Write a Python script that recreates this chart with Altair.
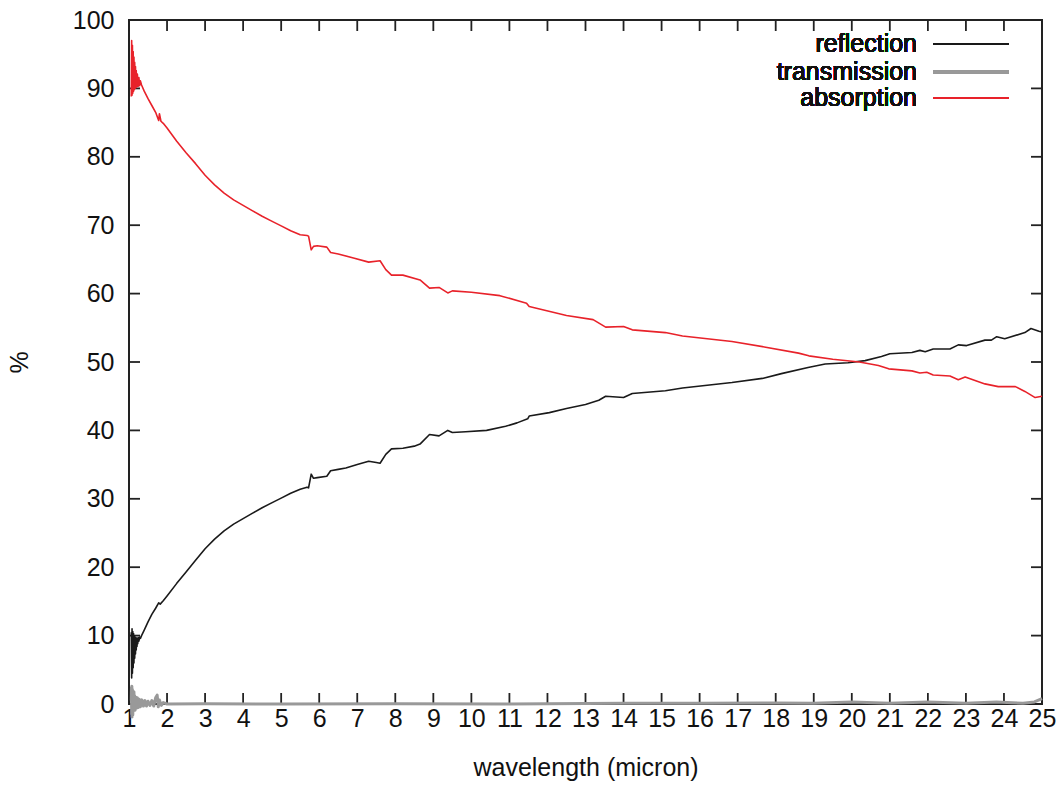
import altair as alt
import pandas as pd

# ---------------- data ----------------
refl_wl = [1.06, 1.07, 1.08, 1.09, 1.10, 1.11, 1.12, 1.13, 1.14, 1.15, 1.16, 1.17, 1.18, 1.19,
           1.20, 1.21, 1.22, 1.23, 1.24, 1.26, 1.28, 1.30, 1.33, 1.40, 1.50, 1.60, 1.70, 1.78,
           1.82, 1.90, 2.00, 2.25, 2.50, 2.75, 3.00, 3.25, 3.50, 3.75, 4.00, 4.25, 4.50, 4.75,
           5.00, 5.25, 5.50, 5.68, 5.72, 5.79, 5.85, 5.95, 6.20, 6.30, 6.50, 6.70, 7.00, 7.30,
           7.50, 7.60, 7.75, 7.90, 8.20, 8.50, 8.65, 8.90, 9.15, 9.38, 9.50, 9.85, 10.40, 10.90,
           11.20, 11.48, 11.52, 12.05, 12.50, 13.00, 13.35, 13.53, 14.00, 14.23, 15.10, 15.55,
           16.20, 16.85, 17.65, 18.15, 18.85, 19.30, 19.90, 20.35, 20.78, 21.00, 21.58, 21.79,
           21.93, 22.14, 22.58, 22.80, 23.02, 23.50, 23.67, 23.81, 24.02, 24.55, 24.71, 24.92, 25.00]
refl_val = [10.5, 3.8, 11.0, 4.5, 10.6, 5.3, 10.3, 6.0, 10.0, 6.7, 9.8, 7.3, 9.7, 7.9,
            9.6, 8.4, 9.6, 8.8, 9.7, 9.2, 9.8, 9.6, 10.0, 10.8, 12.0, 13.1, 14.0, 14.8,
            14.6, 15.1, 15.8, 17.6, 19.3, 21.0, 22.7, 24.1, 25.3, 26.3, 27.1, 27.9, 28.7, 29.4,
            30.1, 30.8, 31.4, 31.7, 31.6, 33.6, 33.0, 33.1, 33.3, 34.1, 34.3, 34.5, 35.0, 35.5,
            35.3, 35.2, 36.5, 37.3, 37.4, 37.7, 38.0, 39.4, 39.2, 40.0, 39.7, 39.8, 40.0, 40.6,
            41.1, 41.7, 42.1, 42.6, 43.2, 43.8, 44.4, 45.0, 44.8, 45.4, 45.8, 46.2,
            46.6, 47.0, 47.6, 48.3, 49.2, 49.7, 49.9, 50.2, 50.8, 51.2, 51.4, 51.7,
            51.5, 51.9, 51.9, 52.5, 52.4, 53.2, 53.2, 53.7, 53.4, 54.3, 54.9, 54.5, 54.4]

trans_wl = [1.06, 1.065, 1.07, 1.075, 1.08, 1.085, 1.09, 1.095, 1.10, 1.11, 1.12, 1.13, 1.14,
            1.15, 1.16, 1.18, 1.20, 1.22, 1.24, 1.27, 1.30, 1.34, 1.38, 1.42, 1.46, 1.50, 1.55,
            1.60, 1.65, 1.70, 1.74, 1.77, 1.80, 1.85, 1.90, 2.00, 3.00, 5.00, 8.00, 11.00, 14.00,
            16.00, 18.00, 19.00, 20.00, 21.00, 22.00, 23.00, 23.80, 24.50, 24.80, 25.00]
trans_val = [0.5, 2.4, -1.5, 2.6, -1.9, 2.2, -1.2, 2.0, -1.6, 1.6, -1.0, 1.8, -0.8,
             1.2, -0.9, 1.0, -0.6, 0.9, -0.5, 0.7, -0.4, 0.6, -0.3, 0.5, -0.3, 0.4, -0.2,
             0.5, -0.3, 0.9, 1.3, -0.4, 0.6, -0.2, 0.2, 0.0, 0.05, 0.0, 0.05, 0.0, 0.1,
             0.1, 0.15, 0.1, 0.3, 0.1, 0.3, 0.1, 0.3, 0.1, 0.3, 0.8]

absor_wl = [1.06, 1.07, 1.08, 1.09, 1.10, 1.11, 1.12, 1.13, 1.14, 1.15, 1.16, 1.17, 1.18, 1.19,
            1.20, 1.22, 1.24, 1.26, 1.28, 1.30, 1.33, 1.40, 1.50, 1.60, 1.70, 1.78, 1.80, 1.84,
            1.90, 2.00, 2.25, 2.50, 2.75, 3.00, 3.25, 3.50, 3.75, 4.00, 4.25, 4.50, 4.75, 5.00,
            5.25, 5.50, 5.68, 5.72, 5.79, 5.85, 5.95, 6.20, 6.30, 6.50, 6.90, 7.30, 7.60, 7.75,
            7.90, 8.20, 8.65, 8.90, 9.15, 9.38, 9.50, 10.00, 10.75, 11.45, 11.52, 12.50, 13.20,
            13.53, 14.00, 14.23, 15.10, 15.55, 16.85, 17.70, 18.60, 18.87, 19.50, 20.20, 20.70,
            20.97, 21.58, 21.79, 21.97, 22.14, 22.58, 22.80, 22.98, 23.24, 23.50, 23.85, 24.30,
            24.55, 24.82, 25.00]
absor_val = [88.8, 97.0, 89.0, 96.3, 89.3, 95.4, 89.6, 94.6, 89.8, 93.8, 90.0, 93.2, 90.1, 92.6,
             90.2, 92.1, 90.3, 91.6, 90.4, 91.1, 90.5, 89.6, 88.5, 87.5, 86.5, 85.3, 86.3, 85.2,
             84.9, 84.2, 82.3, 80.6, 79.0, 77.3, 75.9, 74.7, 73.7, 72.9, 72.1, 71.3, 70.6, 69.9,
             69.2, 68.6, 68.5, 68.4, 66.4, 66.9, 67.0, 66.8, 66.0, 65.8, 65.2, 64.6, 64.8, 63.5,
             62.7, 62.7, 62.0, 60.8, 60.9, 60.1, 60.4, 60.2, 59.7, 58.6, 58.1, 56.8, 56.2,
             55.1, 55.2, 54.7, 54.3, 53.8, 53.0, 52.2, 51.3, 50.9, 50.4, 50.0, 49.5,
             49.0, 48.7, 48.4, 48.5, 48.1, 47.95, 47.4, 47.8, 47.3, 46.8, 46.4, 46.4,
             45.7, 44.8, 45.0]

x_ticks = list(range(1, 26))
y_ticks = list(range(0, 101, 10))
series_names = ["reflection", "transmission", "absorption"]
series_colors = ["#1a1a1a", "#999999", "#e8222a"]
series_widths = [1.6, 3.0, 1.6]

# ---------------- chart ----------------
FONT = "Liberation Sans"
W, H = 913, 684
FS = 25

df_r = pd.DataFrame({"wavelength": refl_wl, "value": refl_val})
df_t = pd.DataFrame({"wavelength": trans_wl, "value": trans_val})
df_a = pd.DataFrame({"wavelength": absor_wl, "value": absor_val})
df_xt = pd.DataFrame({"wavelength": x_ticks})
df_yt = pd.DataFrame({"value": y_ticks})

xs = alt.Scale(domain=[1, 25], nice=False, zero=False)
ys = alt.Scale(domain=[0, 100], nice=False)

xaxis = alt.Axis(values=x_ticks, title="wavelength (micron)", ticks=False, domain=False,
                 grid=False, labelFontSize=FS, titleFontSize=FS, labelPadding=2,
                 titlePadding=24, labelFont=FONT, titleFont=FONT, titleFontWeight="normal",
                 labelColor="#111111", titleColor="#111111", format="d", labelFlush=False,
                 labelOverlap=False)
yaxis = alt.Axis(values=y_ticks, title="%", ticks=False, domain=False, grid=False,
                 labelFontSize=FS, titleFontSize=FS, labelPadding=15, titlePadding=40,
                 labelFont=FONT, titleFont=FONT, titleFontWeight="normal",
                 labelColor="#111111", titleColor="#111111", format="d", labelFlush=False,
                 labelOverlap=False)

X = alt.X("wavelength:Q", scale=xs, axis=xaxis)
Y = alt.Y("value:Q", scale=ys, axis=yaxis)


def line_layer(df, i):
    return alt.Chart(df).mark_line(color=series_colors[i], strokeWidth=series_widths[i],
                                   strokeJoin="round").encode(
        x=X, y=Y, order=alt.Order("wavelength:Q"))


TICK = 11
tick_color = "#222222"
bot = alt.Chart(df_xt).mark_rule(color=tick_color, strokeWidth=1.8).encode(
    x=X, y=alt.value(H), y2=alt.value(H - TICK))
top = alt.Chart(df_xt).mark_rule(color=tick_color, strokeWidth=1.8).encode(
    x=X, y=alt.value(0), y2=alt.value(TICK))
left = alt.Chart(df_yt).mark_rule(color=tick_color, strokeWidth=1.8).encode(
    y=Y, x=alt.value(0), x2=alt.value(TICK))
right = alt.Chart(df_yt).mark_rule(color=tick_color, strokeWidth=1.8).encode(
    y=Y, x=alt.value(W - TICK), x2=alt.value(W))

legend_layers = []
leg_y = [24, 51.7, 78.3]
for i, name in enumerate(series_names):
    legend_layers.append(
        alt.Chart(df_xt).mark_text(align="right", baseline="middle", font=FONT, fontSize=FS,
                                   color="#111111").encode(
            x=alt.value(788), y=alt.value(leg_y[i]), text=alt.value(name)))
    legend_layers.append(
        alt.Chart(df_xt).mark_rule(color=series_colors[i], strokeWidth=series_widths[i]).encode(
            x=alt.value(804), x2=alt.value(880), y=alt.value(leg_y[i])))

chart = alt.layer(
    bot, top, left, right,
    line_layer(df_r, 0),
    line_layer(df_t, 1),
    line_layer(df_a, 2),
    *legend_layers,
).properties(
    width=W, height=H,
    padding={"left": 129, "top": 20, "right": 22, "bottom": 83},
    autosize=alt.AutoSizeParams(type="none"),
    background="white",
).configure_view(stroke="#222222", strokeWidth=2)

chart.save("out.html", embed_options={"renderer": "svg", "actions": False})
